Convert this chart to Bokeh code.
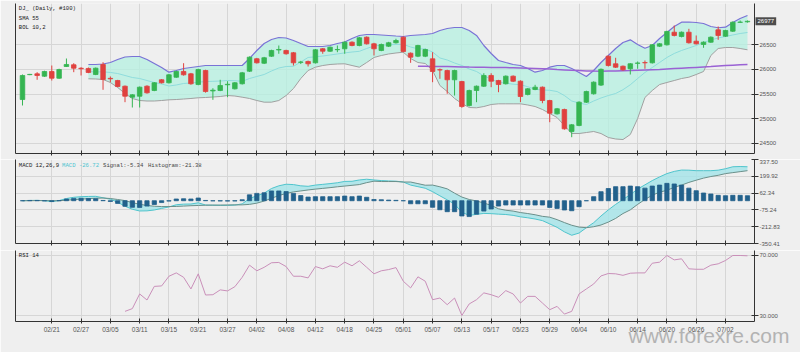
import numpy as np
from bokeh.plotting import figure
from bokeh.layouts import column
from bokeh.models import (ColumnDataSource, FixedTicker, LinearAxis, Range1d, Label, Title,
                          PrintfTickFormatter, CustomJSTickFormatter)
from bokeh.embed import file_html
from bokeh.resources import INLINE

# ---------------- data ----------------
dates = ["02/15","02/18","02/19","02/20","02/21","02/22","02/25","02/26","02/27","02/28",
         "03/01","03/04","03/05","03/06","03/07","03/08","03/11","03/12","03/13","03/14","03/15",
         "03/18","03/19","03/20","03/21","03/22","03/25","03/26","03/27","03/28","03/29",
         "04/01","04/02","04/03","04/04","04/05","04/08","04/09","04/10","04/11","04/12",
         "04/15","04/16","04/17","04/18","04/22","04/23","04/24","04/25","04/26","04/29","04/30",
         "05/01","05/02","05/03","05/06","05/07","05/08","05/09","05/10","05/13","05/14","05/15",
         "05/16","05/17","05/20","05/21","05/22","05/23","05/24","05/27","05/28","05/29","05/30","05/31",
         "06/03","06/04","06/05","06/06","06/07","06/10","06/11","06/12","06/13","06/14",
         "06/17","06/18","06/19","06/20","06/21","06/24","06/25","06/26","06/27","06/28",
         "07/01","07/02","07/03","07/04","07/05"]

opens = [25391,25895,25912,25864,25959,25823,26060,26095,26025,26020,
         25898,26101,25820,25776,25661,25438,25458,25661,25574,25791,
         25730,25843,25959,25912,25695,25979,25565,25574,25690,25608,
         25710,25965,26217,26127,26269,26395,26385,26338,26145,26162,
         26135,26419,26370,26400,26419,26553,26486,26654,26520,26385,
         26472,26541,26654,26330,26269,26269,26216,25995,25979,25791,
         25756,25270,25574,25661,25878,25776,25710,25864,25762,25493,
         25594,25641,25371,25101,25189,24743,24864,25337,25507,25683,
         26269,26115,26066,26014,26125,26140,26135,26472,26500,26755,
         26668,26755,26573,26506,26553,26804,26674,26776,26955,26965]
highs = [25898,25910,25945,25975,26080,26015,26222,26127,26046,26040,
         26040,26147,25858,25790,25675,25500,25655,25680,25745,25805,
         25910,25975,26127,25930,26015,25995,25620,25791,25762,25745,
         25950,26265,26235,26255,26400,26486,26400,26355,26175,26180,
         26415,26435,26465,26486,26570,26570,26660,26670,26540,26525,
         26560,26622,26670,26345,26500,26420,26350,26020,25995,25995,
         25770,25590,25675,25924,25924,25790,25880,25880,25780,25625,
         25689,25655,25385,25220,25205,24895,25355,25570,25760,26020,
         26285,26237,26080,26130,26162,26182,26515,26535,26785,26891,
         26770,26824,26689,26570,26670,26871,26805,26975,26993,26993]
lows = [25270,25885,25791,25850,25776,25810,26050,25945,25878,25925,
        25885,25588,25742,25640,25337,25229,25229,25510,25560,25715,
        25715,25830,25875,25690,25680,25530,25385,25560,25438,25595,
        25695,25950,26120,26110,26255,26318,26300,26080,26110,26060,
        26120,26318,26355,26350,26318,26470,26470,26505,26283,26370,
        26455,26525,26345,26135,26250,26250,25742,25811,25507,25472,
        25223,25250,25337,25645,25641,25539,25695,25745,25337,25475,
        25580,25316,24931,25085,24780,24627,24850,25320,25490,25665,
        26060,26030,25975,25898,26014,26014,26120,26455,26485,26670,
        26650,26525,26505,26439,26540,26601,26660,26760,26945,26950]
closes = [25878,25900,25878,25959,25823,25999,26101,26026,26015,25939,
          26026,25797,25810,25655,25458,25487,25641,25527,25730,25730,
          25892,25959,25892,25710,25999,25553,25580,25675,25700,25730,
          25932,26249,26135,26237,26385,26405,26318,26135,26150,26115,
          26399,26370,26451,26405,26553,26486,26642,26520,26419,26506,
          26541,26587,26364,26249,26486,26405,25959,25990,25791,25979,
          25249,25574,25661,25878,25762,25695,25864,25762,25452,25608,
          25641,25371,25114,25203,24797,24878,25337,25553,25742,26003,
          26080,26046,25993,26115,26130,26135,26500,26520,26770,26689,
          26755,26541,26520,26553,26654,26689,26790,26958,26960,26977]

# Bollinger (10,2) from bar 10 onward
bb_upper = [26101,26101,26111,26141,26202,26253,26263,26263,26202,26121,26040,
            25945,25979,26020,26040,26060,26080,26080,26080,26080,26080,26080,
            26222,26385,26526,26607,26648,26638,26587,26526,26466,26466,26466,
            26486,26526,26557,26628,26689,26709,26709,26699,26689,26678,26668,
            26689,26699,26709,26729,26790,26830,26851,26851,26790,26689,26486,
            26324,26182,26141,26101,26080,26020,25945,25979,26046,26080,26080,
            26020,25939,25858,25979,26141,26283,26425,26547,26601,26506,26431,
            26486,26628,26749,26871,26958,26962,26952,26932,26871,26845,26857,
            26952,27033,27094]
bb_middle = [25959,25949,25953,25939,25918,25878,25837,25817,25776,25736,25705,
             25665,25685,25716,25726,25742,25756,25760,25766,25776,25772,25760,
             25817,25858,25898,25969,26030,26060,26064,26151,26243,26257,26273,
             26293,26314,26336,26354,26368,26425,26476,26492,26502,26506,26510,
             26455,26419,26415,26354,26233,26192,26131,26080,26010,25959,25868,
             25807,25742,25722,25701,25691,25651,25598,25584,25578,25553,25472,
             25361,25320,25290,25361,25422,25472,25513,25590,25690,25817,25939,
             26040,26141,26243,26324,26385,26435,26486,26547,26597,26638,26668,
             26699,26729,26749]
bb_lower = [25811,25807,25797,25736,25635,25513,25412,25371,25361,25361,25371,
            25385,25391,25401,25412,25426,25432,25442,25452,25472,25462,25438,
            25412,25371,25337,25337,25371,25472,25614,25817,25979,26046,26080,
            26101,26111,26115,26080,26046,26141,26243,26283,26314,26334,26350,
            26222,26141,26121,25979,25675,25553,25412,25310,25229,25223,25249,
            25290,25304,25304,25304,25304,25280,25249,25189,25108,25026,24864,
            24702,24702,24722,24743,24702,24621,24591,24580,24682,25006,25432,
            25574,25695,25736,25776,25817,25843,25898,25959,26283,26425,26445,
            26445,26425,26399]

# SMA 55 from bar 55 onward
sma55 = [26066,26064,26062,26060,26058,26056,26052,26048,26046,26044,26042,
         26040,26038,26034,26030,26026,26020,26014,26008,25999,25991,25983,
         25977,25971,25967,25965,25967,25969,25973,25977,25983,25989,25995,
         26001,26010,26018,26026,26034,26042,26050,26058,26068,26078,26086,
         26094,26101]

macd_line = [0,2,3,0,-7,1,18,28,33,35,36,24,12,-12,-45,-70,-84,-83,-76,-63,
             -51,-33,-28,-27,-17,-35,-37,-38,-38,-36,-26,18,40,62,100,122,135,132,122,118,
             128,134,140,147,158,159,170,176,170,165,162,160,153,128,115,102,74,40,7,-28,
             -95,-120,-112,-104,-106,-110,-113,-120,-132,-140,-150,-163,-190,-218,-255,-283,-265,-221,-180,-125,
             -75,-30,10,50,95,130,165,195,222,240,251,250,246,246,246,250,262,278,280,278]
signal_line = [0,0,1,1,0,0,4,9,13,17,20,22,18,10,1,-16,-29,-39,-45,-48,
               -48,-47,-44,-41,-39,-37,-36,-36,-35,-34,-34,-30,-20,-3,20,42,60,72,80,88,
               95,101,107,114,120,126,132,148,160,157,157,157,153,153,140,127,128,114,97,62,
               30,10,-2,-19,-38,-66,-78,-85,-97,-105,-115,-128,-135,-155,-179,-201,-216,-221,-213,-199,
               -175,-145,-105,-75,-30,10,45,70,85,110,128,150,168,185,198,208,222,230,238,246]
histogram = [0,2,2,-1,-7,1,14,19,20,18,16,2,-6,-22,-46,-54,-55,-44,-31,-15,
             -3,14,16,14,22,2,-1,-2,-3,-2,8,48,60,65,80,80,75,60,42,30,
             33,33,33,33,38,33,38,28,10,8,5,3,0,-25,-25,-25,-54,-74,-90,-90,
             -125,-130,-110,-85,-68,-44,-35,-35,-35,-35,-35,-35,-55,-63,-76,-82,-49,0,33,74,
             100,115,115,120,115,103,120,128,142,137,128,103,82,63,55,44,41,44,44,41]

# RSI 14 from bar 15 onward
rsi = [32.9,34.7,44.4,40.4,49.4,49.7,56.1,58.3,55.4,47.7,57.7,43.7,43.9,47.1,46.4,49.2,
       55.4,63.4,59.7,62.0,65.0,65.2,62.5,56.1,56.1,55.0,62.5,61.0,63.0,62.0,65.4,63.0,
       66.3,62.0,57.7,59.7,60.5,61.8,52.8,48.4,55.7,52.8,40.6,41.7,37.3,41.7,30.2,37.8,
       40.6,45.1,43.9,42.2,46.6,44.4,38.4,42.8,42.8,38.4,34.0,36.2,31.1,32.9,44.4,47.7,
       51.0,56.3,57.9,57.7,56.7,58.1,58.3,58.3,64.7,65.4,69.8,66.9,67.6,61.0,60.7,60.7,
       63.4,64.3,66.5,69.8,69.8,69.6]

price_ticks = [24500, 25000, 25500, 26000, 26500]
macd_ticks = [-350.41, -212.83, -75.24, 62.34, 199.92, 337.50]
rsi_ticks = [30, 70]
macd_caption = ["MACD 12,26,9", "MACD -26.72", "Signal:-5.34", "Histogram:-21.38"]

# ---------------- styling ----------------
BG = "#efefef"
GRID = "#d6d6d6"
AXIS = "#333333"
LBL = "#555555"
TFONT = "Liberation Mono"
AFONT = "Liberation Sans"
GREEN = "#35b552"
RED = "#e0413f"

n = len(closes)
idx = list(range(n))
x_range = Range1d(-0.955, n - 0.04)
tick_idx = list(range(4, n, 4))


def make_fig(height, y_range, top, bottom, yticks, yfmt, show_x_labels):
    p = figure(width=800, height=height, x_range=x_range, y_range=y_range,
               output_backend="svg", toolbar_location=None, y_axis_location="right",
               min_border=0, min_border_left=15, min_border_right=45,
               min_border_top=top, min_border_bottom=bottom)
    p.background_fill_color = BG
    p.border_fill_color = BG
    p.outline_line_color = None
    yt = FixedTicker(ticks=yticks)
    p.yaxis.ticker = yt
    p.ygrid.ticker = yt
    p.yaxis.formatter = PrintfTickFormatter(format=yfmt)
    p.yaxis.axis_line_color = AXIS
    p.yaxis.major_tick_line_color = AXIS
    p.yaxis.major_tick_in = 3
    p.yaxis.major_tick_out = 4
    p.yaxis.minor_tick_line_color = None
    p.yaxis.major_label_standoff = 1
    p.yaxis.major_label_text_font = AFONT
    p.yaxis.major_label_text_font_size = "6px"
    p.yaxis.major_label_text_color = LBL
    xt = FixedTicker(ticks=tick_idx)
    p.xaxis.ticker = xt
    p.xgrid.ticker = xt
    p.xaxis.axis_line_color = AXIS
    p.xaxis.major_tick_line_color = AXIS
    p.xaxis.major_tick_in = 3
    p.xaxis.major_tick_out = 2
    p.xaxis.minor_tick_line_color = None
    if show_x_labels:
        p.xaxis.major_label_overrides = {i: dates[i] for i in tick_idx}
        p.xaxis.major_label_text_font = AFONT
        p.xaxis.major_label_text_font_size = "6.5px"
        p.xaxis.major_label_text_color = LBL
        p.xaxis.major_label_standoff = 2
    else:
        p.xaxis.formatter = CustomJSTickFormatter(code="return ''")
        p.xaxis.major_label_text_font_size = "1px"
        p.xaxis.major_label_standoff = 0
    la = LinearAxis(major_tick_line_color=None, minor_tick_line_color=None,
                    axis_line_color=AXIS, major_label_standoff=0,
                    formatter=CustomJSTickFormatter(code="return ''"),
                    major_label_text_font_size="1px", ticker=FixedTicker(ticks=[]))
    p.add_layout(la, "left")
    for g in (p.xgrid, p.ygrid):
        g.grid_line_color = GRID
        g.grid_line_width = 1
    return p

# ---------------- main price panel ----------------
p1 = make_fig(159, Range1d(24297, 27337), 3, 6, price_ticks, "%d", False)

bb_x = idx[n - len(bb_upper):]
p1.varea(x=bb_x, y1=bb_lower, y2=bb_upper, fill_color="#b4f0e0", fill_alpha=0.75)
p1.line(bb_x, bb_middle, line_color="#8fdcdc", line_width=1)
p1.line(bb_x, bb_upper, line_color="#7a72d6", line_width=1.2)
p1.line(bb_x, bb_lower, line_color="#a0a0a0", line_width=1)
sma_x = idx[n - len(sma55):]
p1.line(sma_x, sma55, line_color="#9a62d4", line_width=1.5)

src = ColumnDataSource(dict(
    x=idx, o=opens, h=highs, l=lows, c=closes,
    top=[max(a, b) for a, b in zip(opens, closes)],
    bottom=[min(a, b) for a, b in zip(opens, closes)],
    color=[GREEN if c >= o else RED for o, c in zip(opens, closes)]))
p1.segment(x0="x", y0="l", x1="x", y1="h", line_color="color", line_width=1, source=src)
p1.vbar(x="x", width=0.62, top="top", bottom="bottom", fill_color="color",
        line_color="color", line_width=0.8, source=src)

for txt, yv in zip(["DJ_ (Daily, #100)", "SMA 55", "BOL 10,2"], [27236, 27033, 26851]):
    p1.add_layout(Label(x=-0.5, y=yv, text=txt, text_font=TFONT, text_font_size="5.6px",
                        text_color="#222222", text_baseline="middle"))
# last-price tag on the right axis (side panel, so it is not clipped by the frame)
p1.add_layout(Label(x=x_range.end, y=closes[-1], text=f"{closes[-1]:d}", x_offset=1,
                    text_font=AFONT, text_font_size="6px", text_color="white",
                    text_baseline="middle", background_fill_color="#4d4d4d", padding=2),
              "right")

# ---------------- MACD panel ----------------
p2 = make_fig(91, Range1d(macd_ticks[0], macd_ticks[-1]), 0, 7, macd_ticks, "%.2f", False)
p2.varea(x=idx, y1=macd_line, y2=signal_line, fill_color="#a3e4e8", fill_alpha=0.8)
p2.line(idx, macd_line, line_color="#4fc4cc", line_width=1)
p2.line(idx, signal_line, line_color="#6b8f8a", line_width=1)
p2.vbar(x=idx, top=histogram, bottom=0, width=0.58, fill_color="#22618c",
        line_color="#22618c", line_width=0.8)
cap_x = [-0.5, 5.41, 11.0, 17.14]
cap_col = ["#222222", "#4cc4d0", "#444444", "#444444"]
for txt, xv, col in zip(macd_caption, cap_x, cap_col):
    p2.add_layout(Label(x=xv, y=288.4, text=txt, text_font=TFONT, text_font_size="5.6px",
                        text_color=col, text_baseline="middle"))

# ---------------- RSI panel ----------------
p3 = make_fig(102, Range1d(26.2, 73.1), 0, 31, rsi_ticks, "%.3f", True)
rsi_x = idx[n - len(rsi):]
p3.line(rsi_x, rsi, line_color="#c98fb9", line_width=1)
p3.add_layout(Label(x=-0.5, y=69.8, text="RSI 14", text_font=TFONT, text_font_size="5.6px",
                    text_color="#222222", text_baseline="middle"))
# site watermark, as a title under the date axis (negative standoff keeps the border small)
p3.add_layout(Title(text="www.forexre.com", align="right", vertical_align="middle",
                    text_font=AFONT, text_font_size="21px", text_font_style="normal",
                    text_color="#b3b3b3", standoff=-25, offset=-35), "below")

layout = column(p1, p2, p3, spacing=0)
open("out.html", "w").write(file_html(layout, INLINE))
